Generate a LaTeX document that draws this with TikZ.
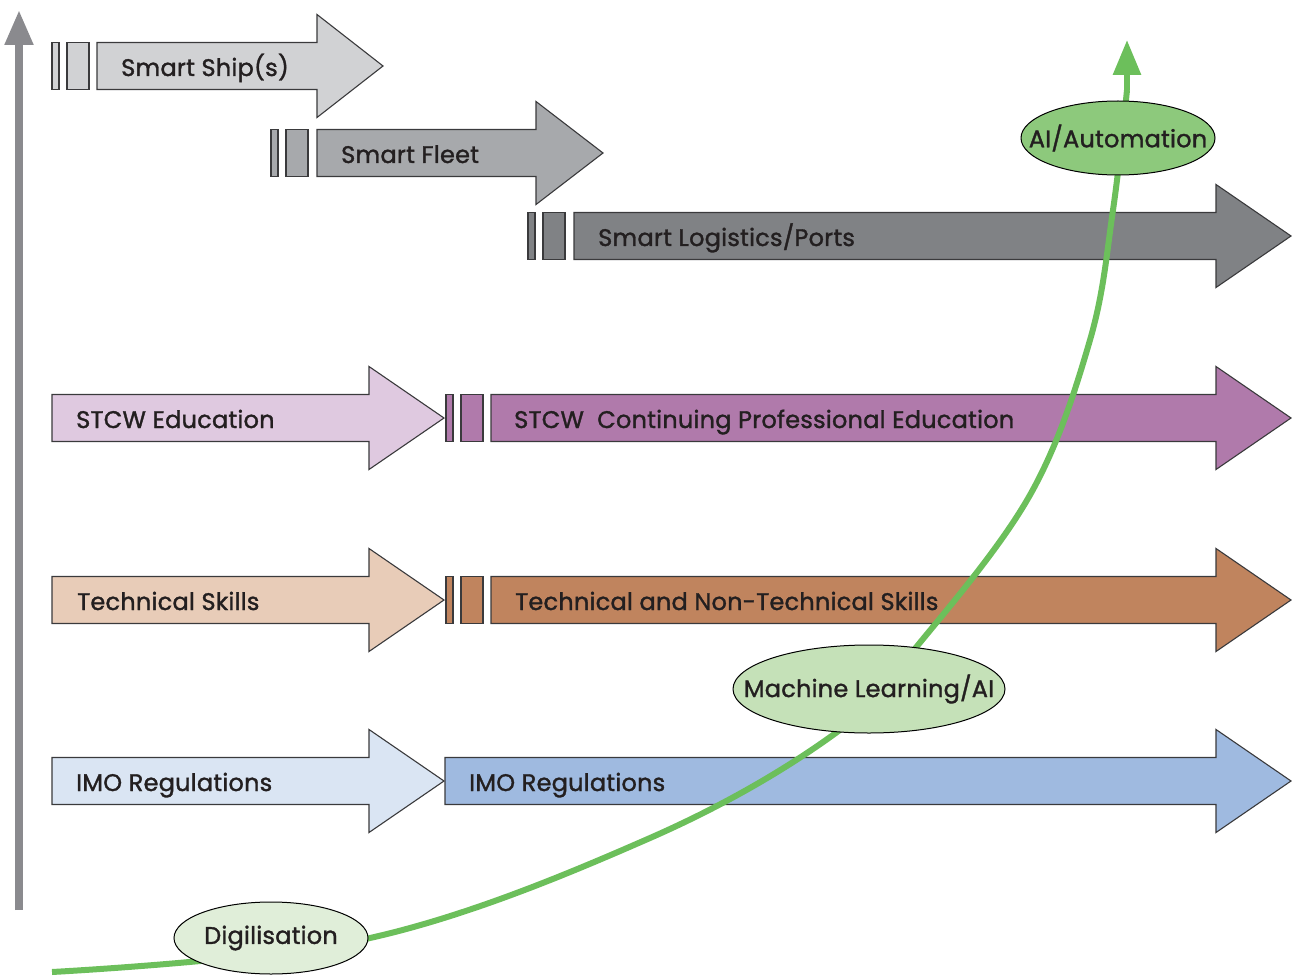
\documentclass[tikz,border=0pt]{standalone}
\usepackage{fontspec}
\setmainfont{Poppins}[FakeBold=1.4,LetterSpace=1.0]
\usetikzlibrary{arrows.meta,shapes.geometric}
\definecolor{axisgray}{HTML}{8A8A8E}
\definecolor{outl}{HTML}{3A3A3C}
\definecolor{txt}{HTML}{231F20}
\definecolor{shipc}{HTML}{D1D2D4}
\definecolor{fleetc}{HTML}{A7A9AC}
\definecolor{logc}{HTML}{808285}
\definecolor{stcwl}{HTML}{DFC9E0}
\definecolor{stcwd}{HTML}{B07AAB}
\definecolor{techl}{HTML}{E8CCB8}
\definecolor{techd}{HTML}{C0845E}
\definecolor{imol}{HTML}{DAE5F3}
\definecolor{imod}{HTML}{9FBAE0}
\definecolor{grn}{HTML}{6CBF5B}
\definecolor{digc}{HTML}{E0EED9}
\definecolor{mlc}{HTML}{C5E1B8}
\definecolor{aic}{HTML}{8DC97C}
\newcommand\bigarr[5]{%
  \filldraw[arrline, fill=#1] (#2,#5-23.5) -- (#3,#5-23.5) -- (#3,#5-51.5) -- (#4,#5) -- (#3,#5+51.5) -- (#3,#5+23.5) -- (#2,#5+23.5) -- cycle;}
\newcommand\twobars[3]{%
  \filldraw[arrline, fill=#1] (#2,#3-23.5) rectangle (#2+7,#3+23.5);
  \filldraw[arrline, fill=#1] (#2+15,#3-23.5) rectangle (#2+37,#3+23.5);}
\begin{document}
\begin{tikzpicture}[x=1pt,y=-1pt,
  arrline/.style={draw=outl, line width=1.1pt, line join=miter},
  lbl/.style={inner sep=0pt, text=txt, font=\fontsize{24}{28}\selectfont, anchor=base west},
  bubble/.style={ellipse, draw=black, line width=1pt, inner sep=0pt, text=txt, font=\fontsize{24}{28}\selectfont},
  curveline/.style={draw=grn, line width=6pt}]
\useasboundingbox (0,0) rectangle (1295,976);
% vertical axis
\coordinate (axb) at (19,910);
\coordinate (axt) at (19,10);
\draw[axisgray, line width=8pt, -{Triangle[width=27pt,length=35pt]}] (axb) -- (axt);
% rows
\twobars{shipc}{52}{66}
\bigarr{shipc}{97}{317}{383}{66}
\twobars{fleetc}{271}{153}
\bigarr{fleetc}{317}{536}{603}{153}
\twobars{logc}{528}{236}
\bigarr{logc}{574}{1216}{1291}{236}
\bigarr{stcwl}{52}{369}{444}{418}
\twobars{stcwd}{446}{418}
\bigarr{stcwd}{491}{1216}{1291}{418}
\bigarr{techl}{52}{369}{444}{600}
\twobars{techd}{446}{600}
\bigarr{techd}{491}{1216}{1291}{600}
\bigarr{imol}{52}{369}{444}{781}
\bigarr{imod}{445}{1216}{1291}{781}
% labels
\node[lbl] (lship) at (121,76) {Smart Ship(s)};
\node[lbl] (lfleet) at (341,163) {Smart Fleet};
\node[lbl] (llog) at (598,246) {Smart Logistics/Ports};
\node[lbl] (lstcw) at (76,428) {STCW Education};
\node[lbl] (lstcwc) at (514,428) {STCW\ \ Continuing Professional Education};
\node[lbl] (ltech) at (77,610) {Technical Skills};
\node[lbl] (ltechn) at (515,610) {Technical and Non-Technical Skills};
\node[lbl] (limo) at (76,791) {IMO Regulations};
\node[lbl] (limor) at (469,791) {IMO Regulations};
% growth curve
\coordinate (c0) at (52,972);
\coordinate (c1) at (370,938);
\coordinate (c2) at (650,838);
\coordinate (c3) at (833,735);
\coordinate (c4) at (918,645);
\coordinate (c5) at (1030,495);
\coordinate (c6) at (1090,340);
\coordinate (c7) at (1113,210);
\coordinate (c8) at (1127,90);
\coordinate (ctip) at (1127,40);
\draw[curveline] plot[smooth, tension=0.6] coordinates {(c0) (c1) (c2) (c3) (c4) (c5) (c6) (c7) (c8)};
\draw[grn, line width=6pt, -{Triangle[width=27pt,length=35pt]}] (c8) -- (ctip);
% bubbles
\node[bubble, fill=digc, minimum width=194pt, minimum height=72pt] (dig) at (271,938) {\makebox[0pt]{Digilisation}};
\node[bubble, fill=mlc, minimum width=272pt, minimum height=88pt] (ml) at (869,689) {\makebox[0pt]{Machine Learning/AI}};
\node[bubble, fill=aic, minimum width=194pt, minimum height=74pt] (ai) at (1118,138) {\makebox[0pt]{AI/Automation}};
\end{tikzpicture}
\end{document}
